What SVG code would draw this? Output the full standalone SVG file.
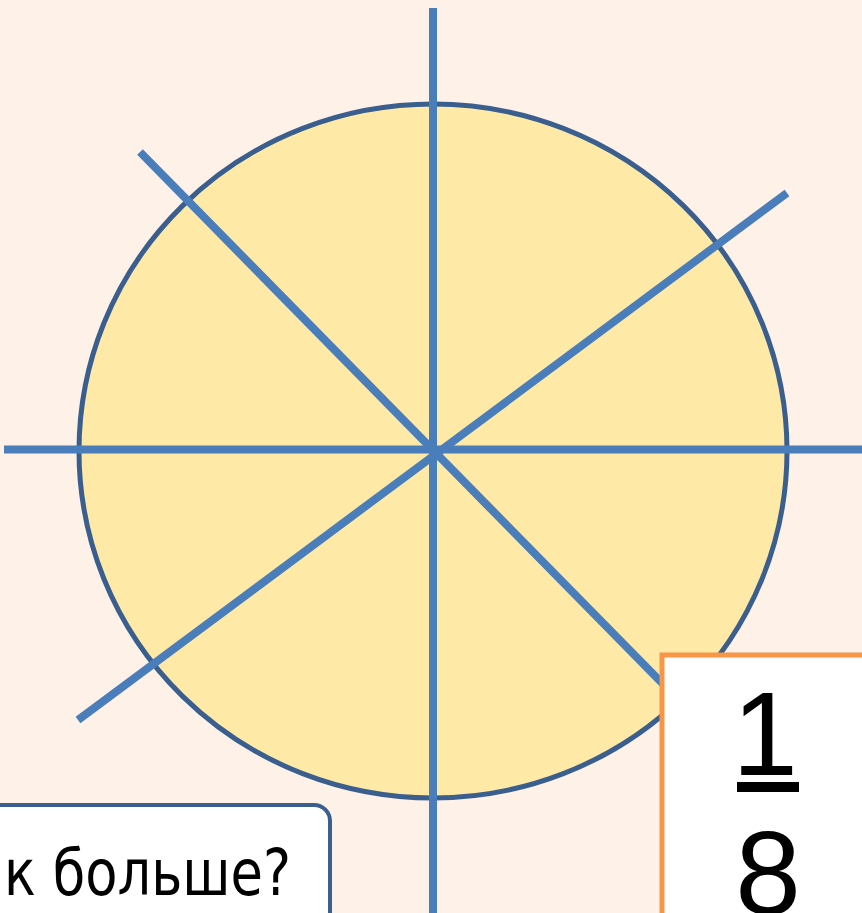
<svg xmlns="http://www.w3.org/2000/svg" width="862" height="913" viewBox="0 0 862 913">
<style>
.ax{stroke:#4A7EBB;stroke-width:8;fill:none}
</style>
<rect x="0" y="0" width="862" height="913" fill="#FDF1E8"/>
<g id="circle">
<ellipse cx="433" cy="451" rx="354" ry="347" fill="#FFE9A6" stroke="#3A5F8F" stroke-width="5"/>
</g>
<g id="connectors">
<line class="ax" x1="433" y1="8" x2="433" y2="913"/>
<line class="ax" x1="4" y1="449.5" x2="862" y2="449.5"/>
<line class="ax" x1="140" y1="152" x2="720" y2="742"/>
<line class="ax" x1="787" y1="193" x2="78" y2="720"/>
</g>
<g id="question">
<rect x="-20" y="805" width="350" height="140" rx="16" fill="#FFFFFF" stroke="#3A5F8F" stroke-width="4"/>
<text x="4" y="895" textLength="287" lengthAdjust="spacingAndGlyphs" font-family="DejaVu Sans, sans-serif" font-size="64" fill="#000">к больше?</text>
</g>
<g id="fraction">
<rect x="662" y="655" width="220" height="280" fill="#FFFFFF" stroke="#F79646" stroke-width="5"/>
<text x="765" y="775" text-anchor="middle" font-family="Liberation Sans, Arial, sans-serif" font-size="118" fill="#000">1</text>
<rect x="737" y="782" width="62" height="10" fill="#000"/>
<text x="768" y="914" text-anchor="middle" font-family="Liberation Sans, Arial, sans-serif" font-size="118" fill="#000">8</text>
</g>
</svg>
